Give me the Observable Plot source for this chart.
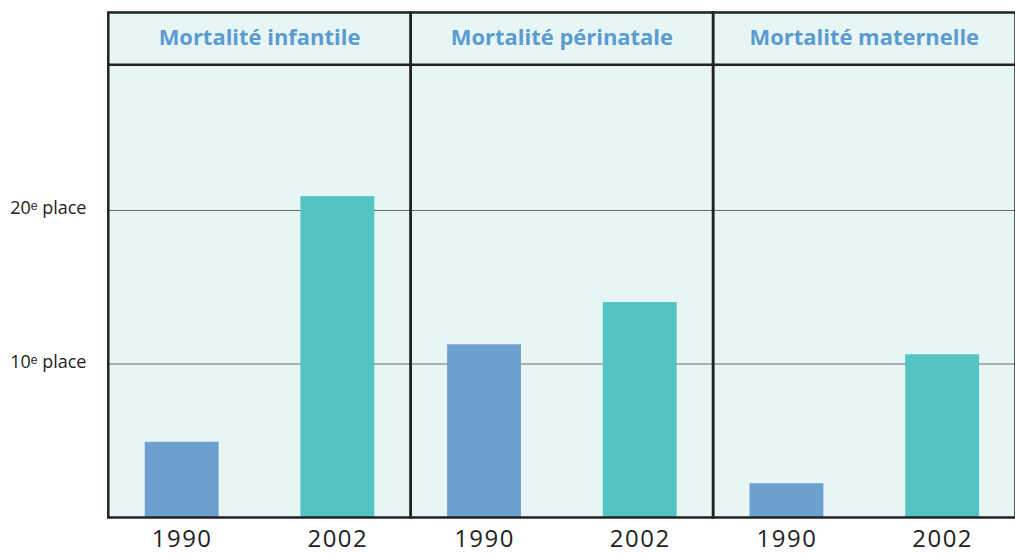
<!DOCTYPE html>
<html>
<head>
<meta charset="utf-8">
<script src="https://cdn.jsdelivr.net/npm/d3@7"></script>
<script src="https://cdn.jsdelivr.net/npm/@observablehq/plot@0.6"></script>
<style>
  html, body { margin: 0; padding: 0; background: #fff; }
  #chart { width: 1015px; height: 556px; overflow: hidden; }
</style>
</head>
<body>
<div id="chart"></div>
<script>
const panels = ["Mortalité infantile", "Mortalité périnatale", "Mortalité maternelle"];
const years = ["1990", "2002"];
const rank1990 = [4.9, 11.25, 2.2];
const rank2002 = [20.9, 14.0, 10.6];
const yTicks = [10, 20];
const yTickLabels = ["10ᵉ place", "20ᵉ place"];

const data = [];
panels.forEach((p, i) => {
  data.push({panel: p, year: years[0], value: rank1990[i]});
  data.push({panel: p, year: years[1], value: rank2002[i]});
});

const dark = "#222222";
const chart = Plot.plot({
  width: 1017,
  height: 556,
  marginLeft: 108,
  marginRight: 0,
  marginTop: 12,
  marginBottom: 38,
  style: {fontFamily: "Open Sans, sans-serif", background: "#fff"},
  fx: {domain: panels, padding: 0, axis: null},
  x: {domain: years, paddingInner: 0.526, paddingOuter: 0.234, label: null, tickSize: 0, tickPadding: 13},
  y: {domain: [0, 32.9], ticks: yTicks, tickSize: 0, tickPadding: 22, label: null,
      tickFormat: d => yTickLabels[yTicks.indexOf(d)]},
  color: {domain: years, range: ["#6ca1cf", "#52c4c4"]},
  marks: [
    Plot.frame({fill: "#e7f5f5", stroke: null}),
    Plot.ruleY(yTicks, {stroke: "#6b6b6b", strokeWidth: 1}),
    Plot.barY(data, {fx: "panel", x: "year", y: "value", fill: "year"}),
    Plot.ruleY([29.5], {stroke: dark, strokeWidth: 2.5}),
    Plot.frame({stroke: dark, strokeWidth: 2.5}),
    Plot.text(panels, {fx: d => d, text: d => d, frameAnchor: "top", dy: 17,
      fill: "#5c9bd0", fontWeight: "bold", fontSize: 22})
  ]
});
document.getElementById("chart").appendChild(chart);
d3.select(chart).selectAll("g[aria-label='x-axis tick label']").attr("font-size", 24);
d3.select(chart).selectAll("g[aria-label='x-axis tick label'] text").attr("fill", dark).style("letter-spacing", "1.5px");
d3.select(chart).selectAll("g[aria-label='y-axis tick label']").attr("font-size", 18);
d3.select(chart).selectAll("g[aria-label='y-axis tick label'] text").attr("fill", dark).attr("dy", "-0.1em");
</script>
</body>
</html>
